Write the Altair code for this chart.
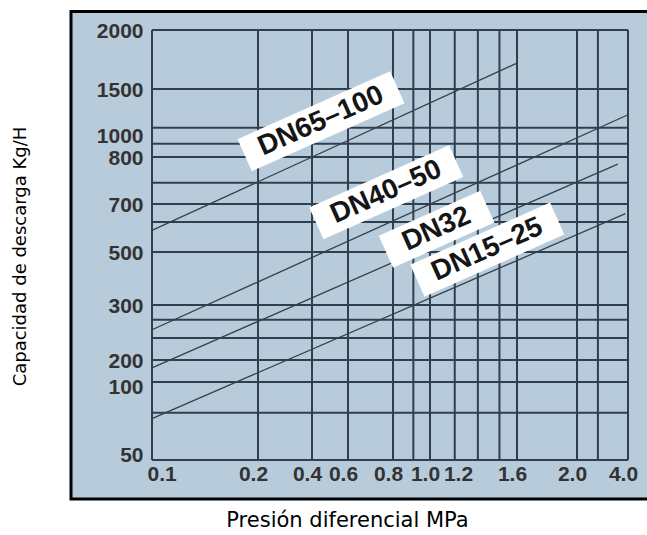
import altair as alt
import pandas as pd

# ---- axis tick labels (as printed) ----
x_ticks = [0.1, 0.2, 0.4, 0.6, 0.8, 1.0, 1.2, 1.6, 2.0, 4.0]
y_ticks = [50, 100, 200, 300, 500, 700, 800, 1000, 1500, 2000]

# ---- grid lines of the printed chart (in data units) ----
x_grid = [0.1, 0.2, 0.4, 0.6, 0.8, 0.91, 1.0, 1.15, 1.31, 1.47, 1.6, 2.0, 2.82, 4.0]
y_grid = [50, 82, 115, 200, 240, 273, 300, 500, 625, 700, 745, 800, 920, 1080, 1500, 2000]

# ---- capacity curves (start / end points) ----
series = ["DN65–100", "DN40–50", "DN32", "DN15–25"]
p_start = [0.1, 0.1, 0.1, 0.1]
q_start = [590, 255, 170, 78]
p_end = [1.6, 4.0, 3.6, 3.9]
q_end = [1720, 1220, 785, 660]

# ---- label anchors for the curve tags ----
label_p = [0.45, 0.77, 1.04, 1.38]
label_q = [1150, 725, 595, 510]

lines_df = pd.DataFrame({
    "serie": series + series,
    "p": p_start + p_end,
    "q": q_start + q_end,
})
labels_df = pd.DataFrame({"label": series, "p": label_p, "q": label_q})
xgrid_df = pd.DataFrame({"p": x_grid})
ygrid_df = pd.DataFrame({"q": y_grid})

# printed chart uses an irregular (non-logarithmic) spacing -> piecewise scales
xscale = alt.Scale(domain=x_ticks, range=[0, 106, 160, 196, 241, 278, 311, 365, 425, 476],
                   nice=False, zero=False)
yscale = alt.Scale(domain=y_ticks, range=[430, 356, 330, 275, 222, 174, 127, 105, 59, 0],
                   nice=False, zero=False)

x_axis = alt.Axis(values=x_ticks, format=".1f", grid=False, domain=False, ticks=False, tickSize=0,
                  labelPadding=14, labelBaseline="middle", labelOffset=-5,
                  labelAlign={"condition": {"test": "datum.value == 0.1", "value": "left"},
                              "value": "center"},
                  labelFont="Liberation Sans", labelFontWeight="bold", labelFontSize=21,
                  labelColor="#333333", labelOverlap=False, labelFlush=False, labelBound=False,
                  title="Presión diferencial MPa", titleFont="DejaVu Sans", titleFontSize=21,
                  titleFontWeight="normal", titleColor="#000000", titleX=195, titleY=60,
                  titleAlign="center", titleBaseline="middle", zindex=1)
y_axis = alt.Axis(values=y_ticks, format="d", grid=False, domain=False, ticks=False, tickSize=0,
                  labelPadding=9, labelOffset=1,
                  labelBaseline={"condition": {"test": "datum.value == 50", "value": "alphabetic"},
                                 "value": "middle"},
                  labelFont="Liberation Sans", labelFontWeight="bold", labelFontSize=21,
                  labelColor="#333333", labelOverlap=False, labelFlush=False, labelBound=False,
                  title="Capacidad de descarga Kg/H", titleFont="DejaVu Sans", titleFontSize=18,
                  titleFontWeight="normal", titleColor="#000000", titleX=-132, titleY=226,
                  titleAngle=270, titleAlign="center", titleBaseline="middle", zindex=1)

X = alt.X("p:Q", scale=xscale, axis=x_axis)
Y = alt.Y("q:Q", scale=yscale, axis=y_axis)

frame = alt.Chart(pd.DataFrame({"k": [0]})).mark_rect(
    fill="#b8cbdb", stroke="#000000", strokeWidth=3
).encode(x=alt.value(-81), x2=alt.value(500), y=alt.value(-18.5), y2=alt.value(469))

vgrid = alt.Chart(xgrid_df).mark_rule(color="#2e3f50", strokeWidth=2).encode(x=X)
hgrid = alt.Chart(ygrid_df).mark_rule(color="#2e3f50", strokeWidth=2).encode(y=Y)

curves = alt.Chart(lines_df).mark_line(color="#34404c", strokeWidth=1.3).encode(
    x=X, y=Y, detail="serie:N"
)

boxes = alt.Chart(labels_df).transform_calculate(
    w="55 + 14*length(datum.label)"
).transform_calculate(
    sz="datum.w*datum.w",
    path="'M-1,' + (-35/datum.w) + 'L1,' + (-35/datum.w) + 'L1,' + (35/datum.w) + 'L-1,' + (35/datum.w) + 'Z'",
).mark_point(filled=True, fill="#ffffff", opacity=1, strokeWidth=0, angle=336).encode(
    x=X, y=Y,
    size=alt.Size("sz:Q", scale=None, legend=None),
    shape=alt.Shape("path:N", scale=None, legend=None),
)

texts = alt.Chart(labels_df).mark_text(
    angle=336, font="Liberation Sans", fontWeight="bold", fontSize=28, color="#151515",
    align="center", baseline="middle"
).encode(x=X, y=Y, text="label:N")

chart = alt.layer(frame, vgrid, hgrid, curves, boxes, texts).properties(
    width=476, height=430,
    padding={"left": 152, "top": 30, "right": 19, "bottom": 75},
    autosize=alt.AutoSizeParams(type="none"),
    background="#ffffff",
).configure_view(stroke=None)

chart.save("out.html", embed_options={"renderer": "svg", "actions": False})
